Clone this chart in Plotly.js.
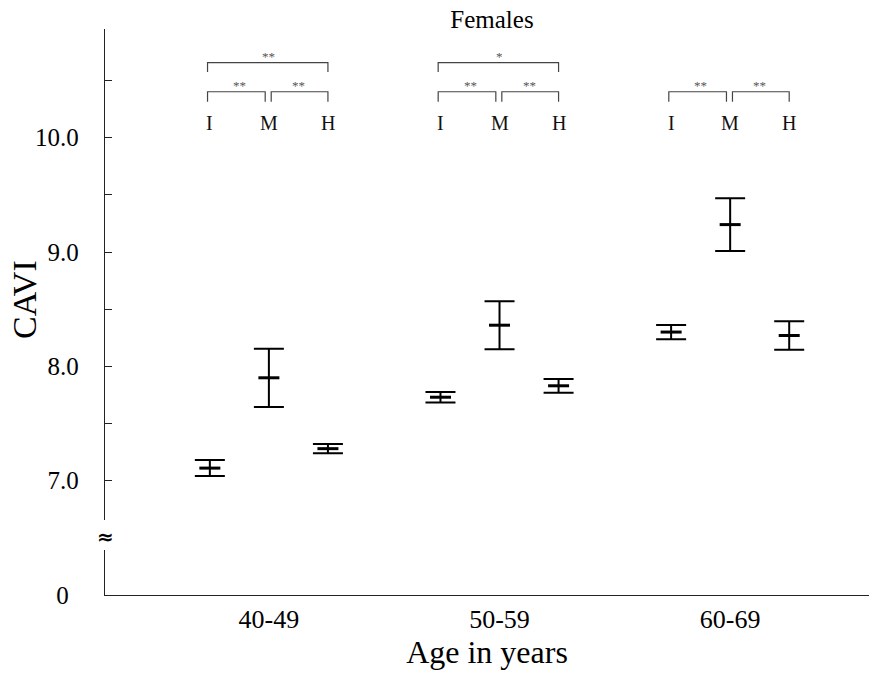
<!DOCTYPE html>
<html>
<head>
<meta charset="utf-8">
<script src="https://cdn.plot.ly/plotly-3.0.1.min.js"></script>
<style>html,body{margin:0;padding:0;background:#fff}#chart{width:869px;height:676px}</style>
</head>
<body>
<div id="chart"></div>
<script>
// ---- data ----
const groups = ["40-49", "50-59", "60-69"];
const levels = ["I", "M", "H"];
const meanI = [7.11, 7.73, 8.30];
const meanM = [7.90, 8.36, 9.24];
const meanH = [7.28, 7.83, 8.27];
const errI = [0.07, 0.046, 0.062];
const errM = [0.255, 0.21, 0.23];
const errH = [0.04, 0.06, 0.125];
// significance: [I vs H, I vs M, M vs H] per age group
const sigIH = ["**", "*", ""];
const sigIM = ["**", "**", "**"];
const sigMH = ["**", "**", "**"];
const yTickVals = [7, 7.5, 8, 8.5, 9, 9.5, 10, 10.5];
const yTickText = ["7.0", "", "8.0", "", "9.0", "", "10.0", ""];

// ---- style ----
const FONT = "Liberation Serif, Times New Roman, serif";
const OFF = 0.256;
const means = [meanI, meanM, meanH];
const errs = [errI, errM, errH];

const traces = levels.map((lv, k) => ({
  type: "scatter",
  mode: "markers",
  name: lv,
  x: groups.map((g, i) => i + (k - 1) * OFF),
  y: means[k],
  xaxis: "x", yaxis: "y",
  marker: {symbol: "line-ew", size: 15, color: "#000", line: {color: "#000", width: 3}},
  error_y: {type: "data", array: errs[k], visible: true, color: "#000", thickness: 2, width: 15},
  showlegend: false,
  hoverinfo: "x+y"
}));
// empty trace so the lower (broken-axis) subplot exists
traces.push({type: "scatter", mode: "markers", x: [], y: [], xaxis: "x", yaxis: "y2", showlegend: false, hoverinfo: "skip"});

const shapes = [];
const annotations = [];
const LINE = {color: "#444", width: 1.2};
function bracket(x0, x1, yb, yt) {
  shapes.push({type: "path", xref: "x", yref: "y",
    path: `M ${x0},${yt} L ${x0},${yb} L ${x1},${yb} L ${x1},${yt}`, line: LINE});
}
groups.forEach((g, i) => {
  const xI = i - OFF, xM = i, xH = i + OFF;
  levels.forEach((lv, k) => {
    annotations.push({x: i + (k - 1) * OFF, y: 10.13, xref: "x", yref: "y", text: lv,
      showarrow: false, font: {family: FONT, size: 20, color: "#111"}});
  });
  if (sigIH[i]) {
    bracket(xI - 0.01, xH, 10.656, 10.575);
    annotations.push({x: (xI + xH) / 2, y: 10.71, xref: "x", yref: "y", text: sigIH[i],
      showarrow: false, font: {family: FONT, size: 13, color: "#555"}});
  }
  if (sigIM[i]) {
    bracket(xI - 0.01, xM - 0.016, 10.402, 10.315);
    annotations.push({x: (xI + xM) / 2, y: 10.455, xref: "x", yref: "y", text: sigIM[i],
      showarrow: false, font: {family: FONT, size: 13, color: "#555"}});
  }
  if (sigMH[i]) {
    bracket(xM + 0.01, xH, 10.402, 10.315);
    annotations.push({x: (xM + xH) / 2, y: 10.455, xref: "x", yref: "y", text: sigMH[i],
      showarrow: false, font: {family: FONT, size: 13, color: "#555"}});
  }
});
// axis break mark and y title
annotations.push({xref: "paper", yref: "paper", x: 0, y: (595 - 537) / 566, text: "<b>≈</b>",
  showarrow: false, font: {family: "DejaVu Sans, sans-serif", size: 20, color: "#000"}, xanchor: "center", yanchor: "middle"});
annotations.push({xref: "paper", yref: "paper", x: (24 - 105) / 764, y: (595 - 300) / 566, text: "CAVI",
  textangle: -90, showarrow: false, font: {family: FONT, size: 34, color: "#000"}, xanchor: "center", yanchor: "middle"});

const layout = {
  width: 869, height: 676,
  margin: {l: 105, r: 0, t: 29, b: 81},
  paper_bgcolor: "#fff", plot_bgcolor: "#fff",
  font: {family: FONT, color: "#000"},
  title: {text: "Females", font: {family: FONT, size: 25, color: "#000"},
    x: 492 / 869, xanchor: "center", xref: "container", y: 1 - 19 / 676, yanchor: "middle", yref: "container"},
  xaxis: {
    anchor: "y2", range: [-0.7106, 2.602], showgrid: false, zeroline: false,
    showline: true, linecolor: "#222", linewidth: 1.2,
    tickvals: [0, 1, 2], ticktext: groups, ticks: "",
    tickfont: {family: FONT, size: 26, color: "#000"}, ticklabelstandoff: 1,
    title: {text: "Age in years", font: {family: FONT, size: 32, color: "#000"}, standoff: 2}
  },
  yaxis: {
    domain: [(595 - 520) / 566, 1], anchor: "x", range: [6.656, 10.951],
    showgrid: false, zeroline: false, showline: true, linecolor: "#222", linewidth: 1.2,
    tickvals: yTickVals, ticktext: yTickText, ticks: "inside", ticklen: 7, tickwidth: 1, tickcolor: "#222",
    tickfont: {family: FONT, size: 25, color: "#000"}, ticklabelstandoff: 20
  },
  yaxis2: {
    domain: [0, (595 - 550) / 566], anchor: "x", range: [0, 1],
    showgrid: false, zeroline: false, showline: true, linecolor: "#222", linewidth: 1.2,
    tickvals: [0], ticktext: ["0"], ticks: "",
    tickfont: {family: FONT, size: 25, color: "#000"}, ticklabelstandoff: 30
  },
  shapes: shapes,
  annotations: annotations
};

Plotly.newPlot("chart", traces, layout, {staticPlot: true, displayModeBar: false});
</script>
</body>
</html>
